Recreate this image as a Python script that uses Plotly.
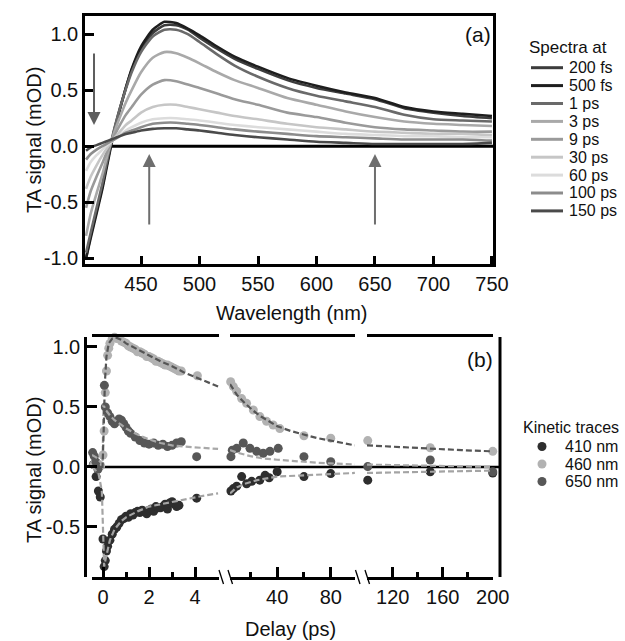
import plotly.graph_objects as go

W, H = 625, 641
def px(X): return X / W
def py(Y): return 1 - Y / H

FONT = "Liberation Sans, Arial, sans-serif"

# ---------------- Panel (a): transient absorption spectra ----------------
wavelength = [403, 407, 412, 417, 422, 427, 432, 437, 442, 450, 460, 470, 480, 490,
              500, 515, 530, 550, 575, 600, 625, 650, 675, 700, 725, 750]

spec_labels = ["200 fs", "500 fs", "1 ps", "3 ps", "9 ps", "30 ps", "60 ps", "100 ps", "150 ps"]
spec_colors = ["#3c3c3c", "#1e1e1e", "#6a6a6a", "#a9a9a9", "#9a9a9a", "#c6c6c6", "#dcdcdc", "#8c8c8c", "#4a4a4a"]

spec_200fs = [-1.0, -0.8, -0.58, -0.36, -0.1, 0.14, 0.34, 0.52, 0.68, 0.87, 1.01, 1.08, 1.08, 1.04,
              0.97, 0.87, 0.78, 0.69, 0.59, 0.52, 0.47, 0.42, 0.34, 0.30, 0.27, 0.25]
spec_500fs = [-1.0, -0.82, -0.6, -0.38, -0.12, 0.13, 0.33, 0.52, 0.69, 0.89, 1.04, 1.11, 1.10, 1.05,
              0.99, 0.89, 0.80, 0.71, 0.61, 0.54, 0.48, 0.43, 0.35, 0.31, 0.29, 0.27]
spec_1ps = [-0.95, -0.77, -0.55, -0.33, -0.08, 0.15, 0.34, 0.51, 0.66, 0.84, 0.98, 1.04, 1.04, 1.0,
            0.93, 0.82, 0.72, 0.62, 0.52, 0.45, 0.40, 0.35, 0.28, 0.24, 0.23, 0.22]
spec_3ps = [-0.8, -0.6, -0.42, -0.25, -0.05, 0.12, 0.26, 0.39, 0.5, 0.66, 0.79, 0.84, 0.83, 0.79,
            0.74, 0.66, 0.59, 0.52, 0.43, 0.37, 0.31, 0.26, 0.22, 0.20, 0.19, 0.18]
spec_9ps = [-0.55, -0.4, -0.27, -0.15, -0.02, 0.09, 0.19, 0.28, 0.35, 0.46, 0.55, 0.59, 0.58, 0.55,
            0.52, 0.47, 0.42, 0.37, 0.30, 0.26, 0.21, 0.17, 0.15, 0.14, 0.13, 0.13]
spec_30ps = [-0.38, -0.27, -0.17, -0.08, 0.0, 0.07, 0.13, 0.19, 0.23, 0.30, 0.35, 0.37, 0.37, 0.35,
             0.33, 0.30, 0.27, 0.24, 0.20, 0.17, 0.15, 0.13, 0.12, 0.11, 0.11, 0.10]
spec_60ps = [-0.22, -0.14, -0.08, -0.03, 0.02, 0.06, 0.10, 0.14, 0.17, 0.21, 0.24, 0.25, 0.25, 0.24,
             0.23, 0.21, 0.19, 0.17, 0.15, 0.13, 0.11, 0.10, 0.09, 0.09, 0.08, 0.08]
spec_100ps = [-0.12, -0.07, -0.03, 0.0, 0.03, 0.06, 0.09, 0.12, 0.14, 0.17, 0.20, 0.21, 0.21, 0.20,
              0.19, 0.17, 0.15, 0.13, 0.11, 0.09, 0.08, 0.07, 0.06, 0.06, 0.06, 0.05]
spec_150ps = [-0.04, -0.01, 0.01, 0.03, 0.05, 0.07, 0.09, 0.11, 0.12, 0.14, 0.155, 0.16, 0.16, 0.15,
              0.14, 0.12, 0.10, 0.08, 0.06, 0.04, 0.03, 0.02, 0.02, 0.02, 0.02, 0.03]
spectra = [spec_200fs, spec_500fs, spec_1ps, spec_3ps, spec_9ps, spec_30ps, spec_60ps, spec_100ps, spec_150ps]

# ---------------- Panel (b): kinetic traces (three delay segments) ----------------
kin_labels = ["410 nm", "460 nm", "650 nm"]
kin_colors = ["#2e2e2e", "#b2b2b2", "#575757"]
fit_colors = ["#a4a4a4", "#555555", "#a8a8a8"]

# 410 nm
t410_s1 = [-0.42, -0.3, -0.2, -0.12, 0.0, 0.05, 0.1, 0.15, 0.2, 0.3, 0.4, 0.5, 0.6, 0.7, 0.8, 0.9,
           1.0, 1.1, 1.2, 1.3, 1.4, 1.5, 1.6, 1.7, 1.8, 1.9, 2.0, 2.1, 2.2, 2.3, 2.4, 2.5, 2.6, 2.7,
           2.8, 2.9, 3.0, 3.1, 3.2, 3.3, 4.07]
v410_s1 = [0.02, -0.08, -0.2, -0.25, -0.6, -0.83, -0.78, -0.7, -0.66, -0.61, -0.56, -0.52, -0.5,
           -0.47, -0.44, -0.43, -0.41, -0.42, -0.39, -0.4, -0.38, -0.37, -0.38, -0.36, -0.37, -0.39,
           -0.36, -0.35, -0.37, -0.33, -0.34, -0.34, -0.33, -0.31, -0.35, -0.3, -0.29, -0.31, -0.33,
           -0.32, -0.26]
t410_s2 = [5.5, 7.3, 9.8, 13.5, 17.2, 21, 27, 31, 34, 40, 60, 80]
v410_s2 = [-0.2, -0.18, -0.16, -0.08, -0.14, -0.12, -0.11, -0.07, -0.09, -0.04, -0.08, -0.055]
t410_s3 = [100, 150, 200]
v410_s3 = [-0.11, -0.04, -0.05]

# 460 nm
t460_s1 = [-0.4, -0.25, -0.1, 0.0, 0.05, 0.1, 0.15, 0.2, 0.25, 0.3, 0.4, 0.5, 0.6, 0.7, 0.8, 0.9,
           1.0, 1.1, 1.2, 1.3, 1.4, 1.5, 1.6, 1.7, 1.8, 1.9, 2.0, 2.1, 2.2, 2.3, 2.4, 2.5, 2.6, 2.7,
           2.8, 2.9, 3.0, 3.1, 3.2, 3.3, 3.4, 4.1]
v460_s1 = [0.02, 0.0, 0.01, 0.1, 0.3, 0.62, 0.8, 0.93, 0.99, 1.03, 1.07, 1.08, 1.07, 1.07, 1.05,
           1.04, 1.03, 1.01, 1.0, 0.99, 0.98, 0.96, 0.96, 0.95, 0.94, 0.92, 0.92, 0.91, 0.9, 0.88,
           0.88, 0.87, 0.86, 0.85, 0.85, 0.84, 0.83, 0.82, 0.81, 0.8, 0.8, 0.76]
t460_s2 = [5.3, 7.3, 9.8, 13.5, 17.2, 22.2, 27.1, 32.1, 37, 42, 60, 80]
v460_s2 = [0.71, 0.67, 0.63, 0.57, 0.53, 0.475, 0.42, 0.38, 0.35, 0.32, 0.26, 0.24]
t460_s3 = [100, 150, 200]
v460_s3 = [0.22, 0.16, 0.13]

# 650 nm
t650_s1 = [-0.45, -0.38, -0.3, -0.22, 0.06, 0.1, 0.2, 0.3, 0.4, 0.5, 0.6, 0.7, 0.8, 0.9, 1.0, 1.1,
           1.2, 1.4, 1.6, 1.8, 2.0, 2.2, 2.4, 2.6, 2.8, 3.0, 3.2, 3.4, 4.07]
v650_s1 = [0.12, 0.09, 0.04, -0.02, 0.68, 0.5, 0.45, 0.42, 0.38, 0.36, 0.38, 0.40, 0.39, 0.36, 0.33,
           0.30, 0.28, 0.25, 0.22, 0.20, 0.19, 0.20, 0.18, 0.19, 0.17, 0.18, 0.20, 0.21, 0.086]
t650_s2 = [5.5, 6.5, 9.8, 14.7, 19.7, 24.7, 29.6, 34.6, 40.8, 60, 80]
v650_s2 = [0.086, 0.14, 0.155, 0.2, 0.155, 0.13, 0.114, 0.13, 0.155, 0.086, 0.044]
t650_s3 = [100, 150, 200]
v650_s3 = [0.003, 0.058, -0.04]

# fitted curves
f410_t1 = [-0.48, -0.2, -0.05, 0.05, 0.1, 0.2, 0.3, 0.5, 0.8, 1.0, 1.5, 2.0, 2.5, 3.0, 3.5, 4.0, 4.5, 5.0]
f410_v1 = [0.0, -0.05, -0.2, -0.83, -0.78, -0.68, -0.61, -0.52, -0.45, -0.42, -0.37, -0.33, -0.31,
           -0.29, -0.27, -0.25, -0.235, -0.22]
f410_t2 = [4.8, 10, 16, 25, 40, 60, 80, 98]
f410_v2 = [-0.22, -0.17, -0.14, -0.11, -0.08, -0.07, -0.06, -0.05]
f410_t3 = [99.4, 150, 200]
f410_v3 = [-0.05, -0.04, -0.03]

f460_t1 = [-0.48, -0.02, 0.03, 0.08, 0.15, 0.25, 0.4, 0.55, 0.8, 1.0, 1.5, 2.0, 2.5, 3.0, 3.5, 4.0, 4.5, 5.0]
f460_v1 = [0.0, 0.0, 0.3, 0.7, 0.92, 1.03, 1.07, 1.08, 1.06, 1.03, 0.98, 0.93, 0.88, 0.84, 0.79, 0.75,
           0.71, 0.67]
f460_t2 = [4.8, 10, 16, 22, 28, 34, 40, 50, 60, 70, 80, 90, 98]
f460_v2 = [0.69, 0.6, 0.53, 0.47, 0.42, 0.38, 0.34, 0.30, 0.27, 0.24, 0.22, 0.20, 0.18]
f460_t3 = [99.4, 125, 150, 175, 200]
f460_v3 = [0.18, 0.165, 0.155, 0.14, 0.13]

f650_t1 = [-0.48, -0.3, -0.1, -0.02, 0.02, 0.1, 0.3, 0.5, 0.8, 1.0, 1.5, 2.0, 2.5, 3.0, 3.5, 4.0, 4.5, 5.0]
f650_v1 = [0.1, 0.08, 0.04, 0.02, 0.52, 0.48, 0.43, 0.39, 0.35, 0.32, 0.27, 0.23, 0.20, 0.18, 0.17,
           0.165, 0.155, 0.15]
f650_t2 = [4.8, 10, 20, 30, 40, 50, 60, 70, 80, 90, 98]
f650_v2 = [0.14, 0.12, 0.09, 0.07, 0.06, 0.05, 0.045, 0.035, 0.03, 0.025, 0.02]
f650_t3 = [99.4, 150, 200]
f650_v3 = [0.02, 0.01, 0.0]

markers = [
    [(t410_s1, v410_s1), (t410_s2, v410_s2), (t410_s3, v410_s3)],
    [(t460_s1, v460_s1), (t460_s2, v460_s2), (t460_s3, v460_s3)],
    [(t650_s1, v650_s1), (t650_s2, v650_s2), (t650_s3, v650_s3)],
]
fits = [
    [(f410_t1, f410_v1), (f410_t2, f410_v2), (f410_t3, f410_v3)],
    [(f460_t1, f460_v1), (f460_t2, f460_v2), (f460_t3, f460_v3)],
    [(f650_t1, f650_v1), (f650_t2, f650_v2), (f650_t3, f650_v3)],
]
seg_axes = ["x2", "x3", "x4"]

fig = go.Figure()

for lab, col, vals in zip(spec_labels, spec_colors, spectra):
    fig.add_trace(go.Scatter(x=wavelength, y=vals, mode="lines", name=lab,
                             line=dict(color=col, width=2.6, shape="spline", smoothing=0.6),
                             xaxis="x", yaxis="y", showlegend=False))

for k in range(3):
    for s in range(3):
        t, v = markers[k][s]
        fig.add_trace(go.Scatter(x=t, y=v, mode="markers", name=kin_labels[k], cliponaxis=False,
                                 marker=dict(color=kin_colors[k], size=9, line=dict(width=0)),
                                 xaxis=seg_axes[s], yaxis="y2", showlegend=False))
for k in [0, 2, 1]:
    for s in range(3):
        t, v = fits[k][s]
        fig.add_trace(go.Scatter(x=t, y=v, mode="lines", name=kin_labels[k] + " fit",
                                 line=dict(color=fit_colors[k], width=2.2, dash="6px,3px"),
                                 xaxis=seg_axes[s], yaxis="y2", showlegend=False))

TICKSIZE = 20
TITLESIZE = 20
LEGSIZE = 16
TXT = "#111111"

axis_common = dict(showline=True, linecolor="black", linewidth=2.5, ticks="inside",
                   tickcolor="black", tickwidth=2.5, showgrid=False, zeroline=False, automargin=False,
                   tickfont=dict(family=FONT, size=TICKSIZE, color=TXT))

fig.update_layout(
    width=W, height=H, margin=dict(l=0, r=0, t=0, b=0, autoexpand=False),
    paper_bgcolor="white", plot_bgcolor="white", showlegend=False,
    xaxis=dict(domain=[px(85), px(493)], range=[402.1, 750.9], anchor="y", mirror=True,
               tickvals=[450, 500, 550, 600, 650, 700, 750], ticklen=9, **axis_common),
    yaxis=dict(domain=[py(264.3), py(15.7)], range=[-1.054, 1.165], anchor="x", mirror=True,
               tickvals=[1, 0.5, 0, -0.5, -1], ticktext=["1.0", "0.5", "0.0", "-0.5", "-1.0"],
               ticklen=9, **axis_common),
    xaxis2=dict(domain=[px(92), px(219)], range=[-0.478, 5.04], anchor="y2", mirror=True,
                tickvals=[0, 2, 4], ticklen=10,
                minor=dict(tickvals=[1, 3], ticks="inside", ticklen=5, tickwidth=2.5, tickcolor="black"),
                **axis_common),
    xaxis3=dict(domain=[px(230), px(355)], range=[4.8, 98.1], anchor="y2", mirror=True,
                tickvals=[40, 80], ticklen=10,
                minor=dict(tickvals=[20, 60], ticks="inside", ticklen=5, tickwidth=2.5, tickcolor="black"),
                **axis_common),
    xaxis4=dict(domain=[px(367), px(493)], range=[99.4, 200.2], anchor="y2", mirror=True,
                tickvals=[120, 160, 200], ticklen=10,
                minor=dict(tickvals=[140, 180], ticks="inside", ticklen=5, tickwidth=2.5, tickcolor="black"),
                **axis_common),
    yaxis2=dict(domain=[py(577), py(337)], range=[-0.917, 1.083], anchor="free", position=px(85),
                tickvals=[1, 0.5, 0, -0.5], ticktext=["1.0", "0.5", "0.0", "-0.5"], ticklen=10,
                **axis_common),
)

shapes = []
# zero lines
shapes.append(dict(type="line", xref="x", yref="y", x0=421, x1=750.9, y0=0, y1=0,
                   line=dict(color="black", width=3), layer="below"))
shapes.append(dict(type="line", xref="paper", yref="y2", x0=px(103), x1=px(500), y0=0, y1=0,
                   line=dict(color="black", width=2.5), layer="below"))
# right spine of (b)
shapes.append(dict(type="line", xref="paper", yref="paper", x0=px(500), x1=px(500),
                   y0=py(577), y1=py(337), line=dict(color="black", width=3)))
# axis break marks
for xb in [219, 228, 355.5, 365]:
    shapes.append(dict(type="line", xref="paper", yref="paper", x0=px(xb), x1=px(xb + 4.5),
                       y0=py(570), y1=py(584), line=dict(color="black", width=1.3)))

annotations = []
# arrows in (a)
annotations.append(dict(x=409.8, y=0.19, xref="x", yref="y", ax=0, ay=-73, text="", showarrow=True,
                        arrowhead=2, arrowsize=1.3, arrowwidth=2, arrowcolor="#5e5e5e"))
for lam in [457, 650]:
    annotations.append(dict(x=lam, y=-0.07, xref="x", yref="y", ax=0, ay=72, text="", showarrow=True,
                            arrowhead=2, arrowsize=1.3, arrowwidth=2, arrowcolor="#6e6e6e"))

def txt(X, Y, s, size=17, angle=0, xanchor="center"):
    annotations.append(dict(x=px(X), y=py(Y), xref="paper", yref="paper", text=s, showarrow=False,
                            xanchor=xanchor, yanchor="middle", textangle=angle, borderpad=0,
                            font=dict(family=FONT, size=size, color=TXT)))

txt(478, 34, "(a)", 21)
txt(480, 359, "(b)", 21)
txt(34, 140, "TA signal (mOD)", TITLESIZE, -90)
txt(34, 470, "TA signal (mOD)", TITLESIZE, -90)
txt(292, 313, "Wavelength (nm)", TITLESIZE)
txt(290, 629, "Delay (ps)", TITLESIZE)

# legend (a)
txt(528, 47, "Spectra at", 17, xanchor="left")
for i, (lab, col) in enumerate(zip(spec_labels, spec_colors)):
    Y = 67.7 + 17.9 * i
    shapes.append(dict(type="line", xref="paper", yref="paper", x0=px(531), x1=px(563),
                       y0=py(Y), y1=py(Y), line=dict(color=col, width=3)))
    txt(568, Y, lab, LEGSIZE, xanchor="left")

# legend (b)
txt(522, 427, "Kinetic traces", 16, xanchor="left")
for i, (lab, col) in enumerate(zip(kin_labels, kin_colors)):
    Y = 446.5 + 17.5 * i
    shapes.append(dict(type="circle", xref="paper", yref="paper", x0=px(537.5), x1=px(546.5),
                       y0=py(Y + 4.5), y1=py(Y - 4.5), fillcolor=col, line=dict(width=0)))
    txt(564, Y, lab, LEGSIZE, xanchor="left")

fig.update_layout(shapes=shapes, annotations=annotations)
fig.write_html("out.html")
